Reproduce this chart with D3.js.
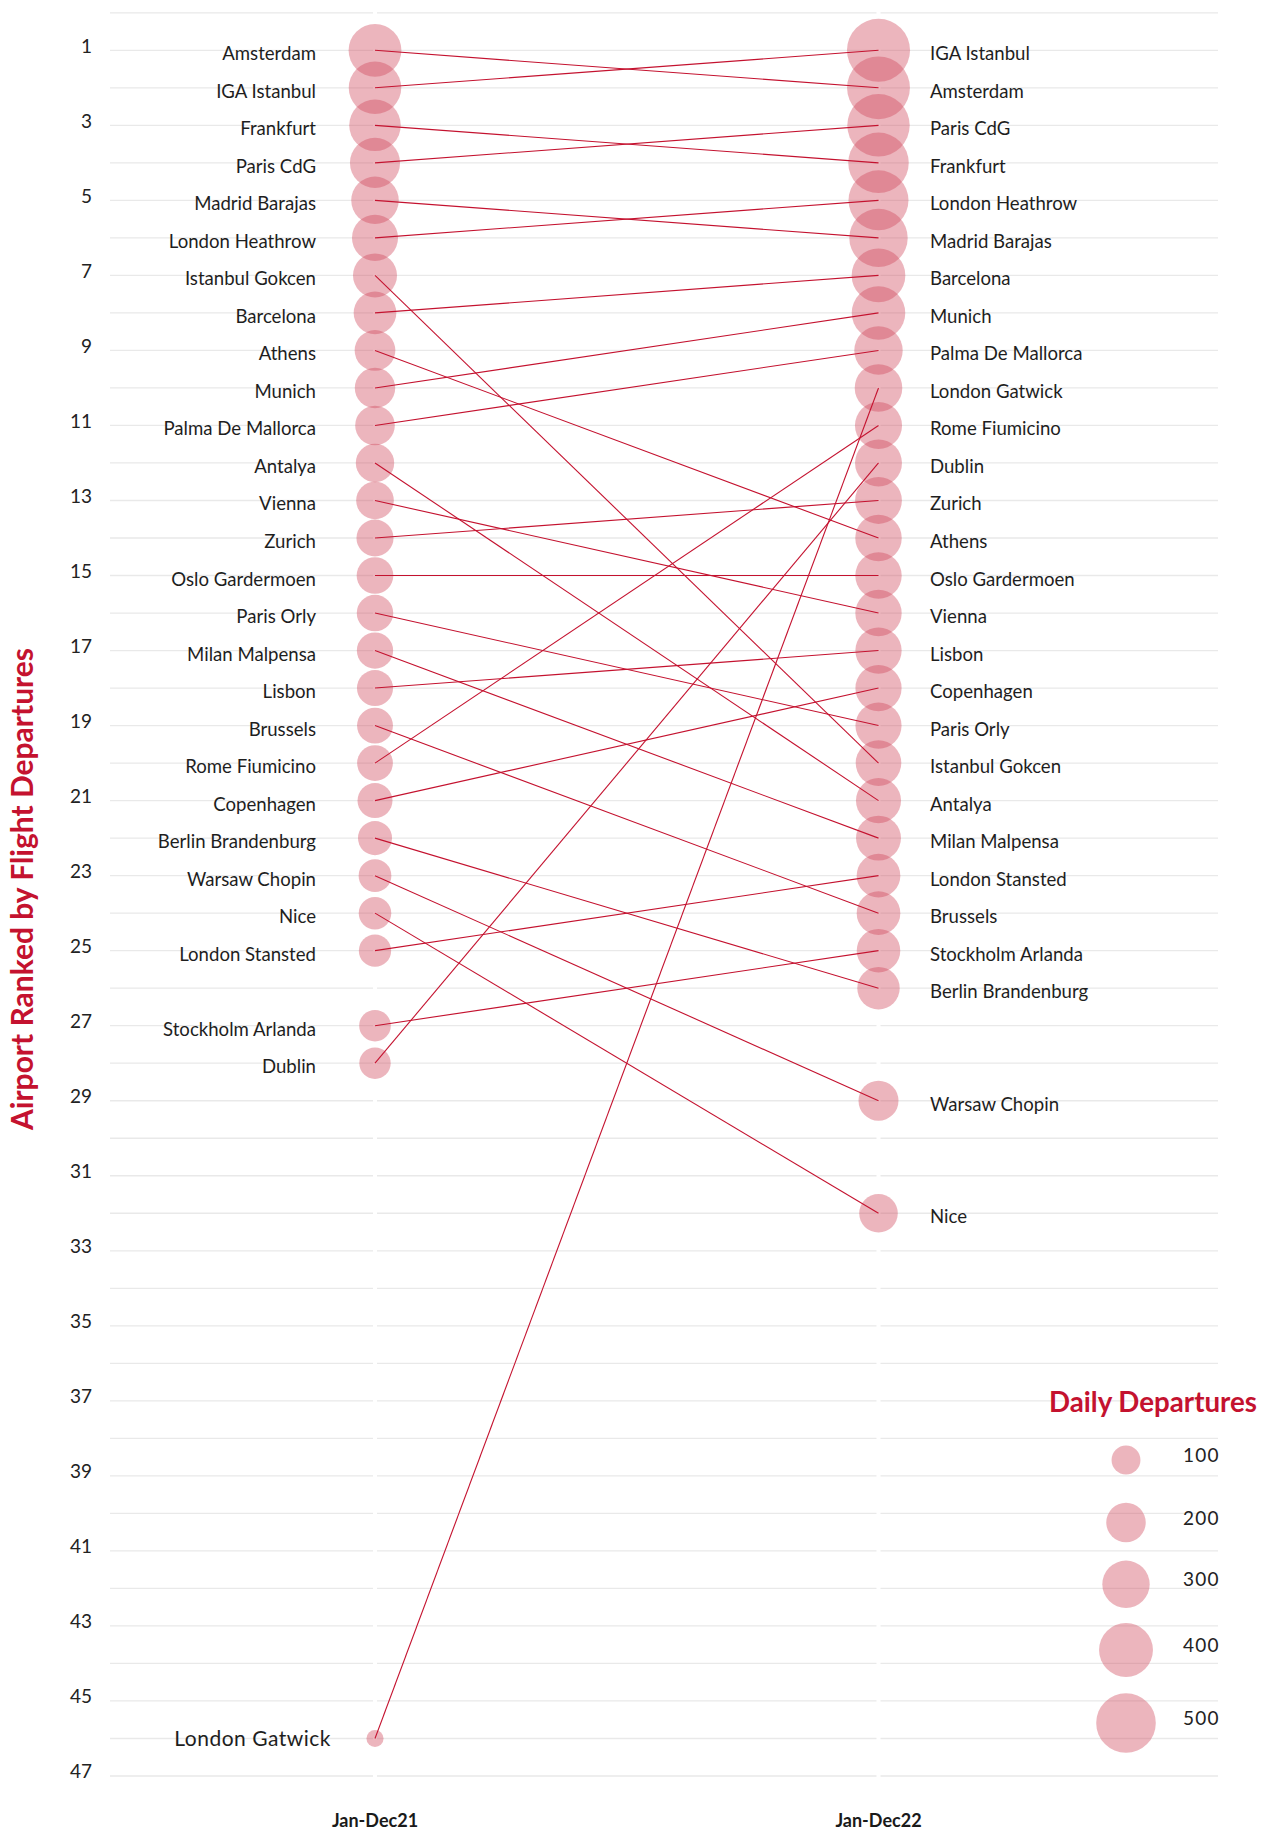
<!DOCTYPE html>
<html><head><meta charset="utf-8">
<script src="https://cdn.jsdelivr.net/npm/d3@7"></script>
<style>body{margin:0;background:#fff}svg{display:block}</style>
</head><body>
<svg id="chart" width="1270" height="1832"></svg>
<script>
// ---------------- DATA ----------------
const periods = ["Jan-Dec21", "Jan-Dec22"];
const airports = ["Amsterdam","IGA Istanbul","Frankfurt","Paris CdG","Madrid Barajas","London Heathrow","Istanbul Gokcen","Barcelona","Athens","Munich","Palma De Mallorca","Antalya","Vienna","Zurich","Oslo Gardermoen","Paris Orly","Milan Malpensa","Lisbon","Brussels","Rome Fiumicino","Copenhagen","Berlin Brandenburg","Warsaw Chopin","Nice","London Stansted","Stockholm Arlanda","Dublin","London Gatwick"];
const rank2021 = [1,2,3,4,5,6,7,8,9,10,11,12,13,14,15,16,17,18,19,20,21,22,23,24,25,27,28,46];
const rank2022 = [2,1,4,3,6,5,20,7,14,8,9,21,16,13,15,19,22,17,24,11,18,26,29,32,23,25,12,10];
const dep2021 = [382,378,362,340,302,282,255,238,214,211,202,188,180,174,170,168,166,164,162,161,153,144,132,130,128,122,120,31];
const dep2022 = [563,567,517,554,478,507,276,396,288,394,315,269,286,292,287,283,267,285,250,296,284,235,206,190,251,249,294,303];
const rankTicks = [1,3,5,7,9,11,13,15,17,19,21,23,25,27,29,31,33,35,37,39,41,43,45,47];
const legendValues = [100,200,300,400,500];
const yTitle = "Airport Ranked by Flight Departures";
const legendTitle = "Daily Departures";

// ---------------- LAYOUT ----------------
const RED = "#c4122f";
const FILL = "#d0455a";
const FONT = "Lato, 'Open Sans', sans-serif";
const svg = d3.select("#chart");

const x = d3.scalePoint().domain(periods).range([375, 878.5]);
const y = d3.scaleLinear().domain([1, 47]).range([50.3, 1776]);
const r = d3.scalePow().exponent(0.45).domain([0, 500]).range([0, 29.8]);

const rows = airports.map((name, i) => ({
  name, r21: rank2021[i], r22: rank2022[i], d21: dep2021[i], d22: dep2022[i]
}));

// gridlines (split at the two columns)
const gridRanks = d3.range(0, 48);
const gx0 = 110, gx1 = 1218, gap = 2;
const segs = [[gx0, x(periods[0]) - gap], [x(periods[0]) + gap, x(periods[1]) - gap], [x(periods[1]) + gap, gx1]];
const grid = svg.append("g");
gridRanks.forEach(k => {
  segs.forEach(s => {
    grid.append("line").attr("x1", s[0]).attr("x2", s[1])
      .attr("y1", y(k)).attr("y2", y(k))
      .attr("stroke", "#e9e9e9").attr("stroke-width", 1.3);
  });
});

// rank tick labels
svg.append("g").selectAll("text").data(rankTicks).join("text")
  .attr("x", 92).attr("y", d => y(d) + 2.4)
  .attr("text-anchor", "end")
  .attr("font-family", FONT).attr("font-size", 19).attr("fill", "#222")
  .text(d => d);

// circles
const circ = svg.append("g");
circ.selectAll("c21").data(rows).join("circle")
  .attr("cx", x(periods[0])).attr("cy", d => y(d.r21)).attr("r", d => r(d.d21))
  .attr("fill", FILL).attr("fill-opacity", 0.4);
circ.selectAll("c22").data(rows).join("circle")
  .attr("cx", x(periods[1])).attr("cy", d => y(d.r22)).attr("r", d => r(d.d22))
  .attr("fill", FILL).attr("fill-opacity", 0.4);

// connecting lines
svg.append("g").selectAll("line").data(rows).join("line")
  .attr("x1", x(periods[0])).attr("y1", d => y(d.r21))
  .attr("x2", x(periods[1])).attr("y2", d => y(d.r22))
  .attr("stroke", RED).attr("stroke-width", 1.1);

// helper: squeeze text horizontally to mimic narrow typeface
function squeeze(sel, factor) {
  sel.each(function () {
    const len = this.getComputedTextLength();
    d3.select(this).attr("textLength", len * factor).attr("lengthAdjust", "spacingAndGlyphs");
  });
}

// airport labels
const LBL = 20, SQ = 0.93;
const left = svg.append("g").selectAll("text").data(rows).join("text")
  .attr("x", d => d.r21 > 40 ? 331 : 316)
  .attr("y", d => y(d.r21) + (d.r21 > 40 ? 7.5 : 10))
  .attr("text-anchor", "end")
  .attr("font-family", FONT).attr("font-size", d => d.r21 > 40 ? 21 : LBL).attr("fill", "#1e1e1e")
  .attr("letter-spacing", d => d.r21 > 40 ? 0.5 : 0)
  .text(d => d.name);
squeeze(left.filter(d => d.r21 <= 40), SQ);

const right = svg.append("g").selectAll("text").data(rows).join("text")
  .attr("x", 930).attr("y", d => y(d.r22) + 10)
  .attr("font-family", FONT).attr("font-size", LBL).attr("fill", "#1e1e1e")
  .text(d => d.name);
squeeze(right, SQ);

// period labels
svg.append("g").selectAll("text").data(periods).join("text")
  .attr("x", d => x(d)).attr("y", 1827).attr("text-anchor", "middle")
  .attr("font-family", FONT).attr("font-weight", 700).attr("font-size", 18).attr("fill", "#1a1a1a")
  .text(d => d);

// y-axis title
svg.append("text")
  .attr("transform", "translate(33,889) rotate(-90)")
  .attr("text-anchor", "middle")
  .attr("font-family", FONT).attr("font-weight", 700).attr("font-size", 30).attr("fill", RED)
  .attr("textLength", 482).attr("lengthAdjust", "spacingAndGlyphs")
  .text(yTitle);

// legend
const lg = svg.append("g");
lg.append("text").attr("x", 1049).attr("y", 1411.7)
  .attr("font-family", FONT).attr("font-weight", 700).attr("font-size", 29).attr("fill", RED)
  .attr("textLength", 208).attr("lengthAdjust", "spacingAndGlyphs")
  .text(legendTitle);
const legendY = [1460, 1522.5, 1584.3, 1650, 1723];
lg.selectAll("circle").data(legendValues).join("circle")
  .attr("cx", 1126).attr("cy", (d, i) => legendY[i]).attr("r", d => r(d))
  .attr("fill", FILL).attr("fill-opacity", 0.4);
lg.selectAll("text.v").data(legendValues).join("text").attr("class", "v")
  .attr("x", 1183).attr("y", (d, i) => legendY[i] + 2)
  .attr("font-family", FONT).attr("font-size", 19).attr("letter-spacing", 1.2).attr("fill", "#222")
  .text(d => d);
</script>
</body></html>
